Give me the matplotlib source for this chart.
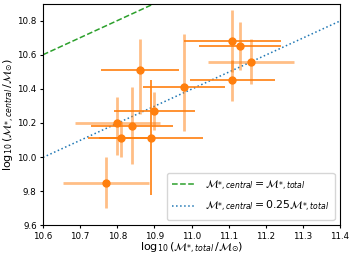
import numpy as np
import matplotlib
matplotlib.use("Agg")
import matplotlib.pyplot as plt

# galaxy stellar masses (log10)
m_total = [10.86, 10.80, 10.84, 10.81, 10.89, 10.90, 10.98, 11.11, 11.11, 11.13, 11.16, 10.77]
m_central = [10.51, 10.20, 10.18, 10.11, 10.11, 10.27, 10.41, 10.68, 10.45, 10.65, 10.56, 9.85]
xerr = [0.105, 0.115, 0.11, 0.09, 0.14, 0.11, 0.11, 0.13, 0.115, 0.11, 0.115, 0.115]
yerr_lo = [0.26, 0.19, 0.22, 0.11, 0.33, 0.11, 0.26, 0.18, 0.12, 0.14, 0.13, 0.15]
yerr_hi = [0.18, 0.15, 0.23, 0.10, 0.34, 0.11, 0.31, 0.18, 0.12, 0.14, 0.13, 0.15]
x_faint = [False, True, False, False, False, False, False, False, False, False, True, True]
y_faint = [True, True, True, True, False, True, True, True, True, True, True, True]

ORANGE = "#ff7f0e"

fig = plt.figure(figsize=(3.51, 2.56), dpi=100)
ax = fig.add_axes([0.1225, 0.12, 0.8462, 0.866])

xx = np.array([10.6, 11.4])
ax.plot(xx, xx, "--", color="#2ca02c", lw=1.1,
        label=r"$\mathcal{M}_{*,central} = \mathcal{M}_{*,total}$")
ax.plot(xx, xx + np.log10(0.25), ":", color="#1f77b4", lw=1.1,
        label=r"$\mathcal{M}_{*,central} = 0.25\mathcal{M}_{*,total}$")

for i in range(len(m_total)):
    ax.errorbar(m_total[i], m_central[i], xerr=xerr[i], fmt="none", ecolor=ORANGE,
                elinewidth=2 if x_faint[i] else 1.2, alpha=0.5 if x_faint[i] else 1.0)
    ax.errorbar(m_total[i], m_central[i], yerr=[[yerr_lo[i]], [yerr_hi[i]]], fmt="none",
                ecolor=ORANGE, elinewidth=2 if y_faint[i] else 1.2,
                alpha=0.5 if y_faint[i] else 1.0)
ax.plot(m_total, m_central, "o", color=ORANGE, ms=5, ls="none", zorder=5)

ax.set_xlim(10.6, 11.4)
ax.set_ylim(9.6, 10.9)
ax.set_xticks(np.arange(10.6, 11.41, 0.1))
ax.set_yticks(np.arange(9.6, 10.81, 0.2))
ax.tick_params(labelsize=6.3, length=2.5, pad=2)
ax.set_xlabel(r"$\log_{10}(\mathcal{M}_{*,total}\,/\mathcal{M}_{\odot})$", fontsize=8, labelpad=0)
ax.set_ylabel(r"$\log_{10}(\mathcal{M}_{*,central}\,/\mathcal{M}_{\odot})$", fontsize=8, labelpad=0)
ax.legend(loc="lower right", fontsize=7.8, handlelength=2.2, borderpad=0.5, labelspacing=0.6)

fig.savefig("out.png", dpi=100)
